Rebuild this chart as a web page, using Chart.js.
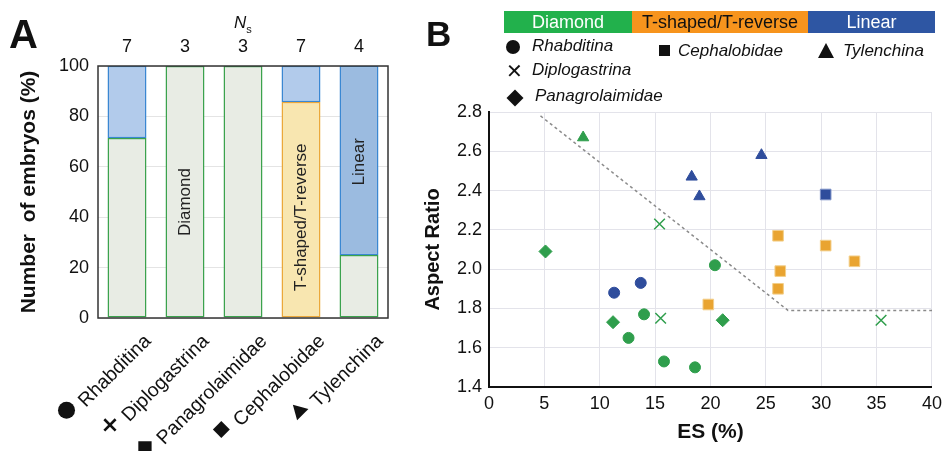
<!DOCTYPE html>
<html><head><meta charset="utf-8">
<script src="https://cdn.jsdelivr.net/npm/chart.js@4"></script>
<style>
body{margin:0;background:#fff;width:948px;height:451px;overflow:hidden;position:relative;font-family:"Liberation Sans",Arial,sans-serif;color:#111;}
.abs{position:absolute;white-space:nowrap;}
.lt{position:absolute;white-space:nowrap;font-style:italic;font-size:17px;height:20px;line-height:20px;}
</style></head><body>
<div class="abs" style="left:0;top:0;width:400px;height:451px"><canvas id="ca"></canvas></div>
<div class="abs" style="left:400px;top:0;width:548px;height:451px"><canvas id="cb"></canvas></div>

<div class="abs" style="left:9px;top:12px;font-size:40px;font-weight:bold;line-height:normal">A</div>
<div class="abs" style="left:426px;top:14px;font-size:35px;font-weight:bold;line-height:normal">B</div>
<div class="abs" style="left:234px;top:13px;font-size:17px;line-height:normal"><i>N</i><span style="font-size:11px;position:relative;top:5px">s</span></div>

<div class="abs" style="left:504px;top:11px;width:128px;height:22px;background:#22b14c;color:#fff;font-size:18px;line-height:22px;text-align:center">Diamond</div>
<div class="abs" style="left:632px;top:11px;width:176px;height:22px;background:#f7941d;color:#111;font-size:18px;line-height:22px;text-align:center">T-shaped/T-reverse</div>
<div class="abs" style="left:808px;top:11px;width:127px;height:22px;background:#2e56a3;color:#fff;font-size:18px;line-height:22px;text-align:center">Linear</div>

<div class="abs" style="left:506px;top:40px;width:14px;height:14px;border-radius:50%;background:#111"></div>
<div class="lt" style="left:532px;top:36px">Rhabditina</div>
<div class="abs" style="left:659px;top:45px;width:11px;height:11px;background:#111"></div>
<div class="lt" style="left:678px;top:41px">Cephalobidae</div>
<div class="abs" style="left:818px;top:43px;width:0;height:0;border-left:8.5px solid transparent;border-right:8.5px solid transparent;border-bottom:15px solid #111"></div>
<div class="lt" style="left:843px;top:41px">Tylenchina</div>
<div class="abs" style="left:506px;top:60px;font-size:20px;line-height:22px;font-family:'DejaVu Sans'">✕</div>
<div class="lt" style="left:532px;top:60px">Diplogastrina</div>
<div class="abs" style="left:509px;top:92px;width:12px;height:12px;background:#111;transform:rotate(45deg)"></div>
<div class="lt" style="left:535px;top:86px">Panagrolaimidae</div>

<script>
// ---------- Panel A data ----------
const taxa = ['Rhabditina','Diplogastrina','Panagrolaimidae','Cephalobidae','Tylenchina'];
const taxonMarkers = ['circle','cross','diamond','square','triangle'];
const embryoCounts = ['7','3','3','7','4'];
const diamondPct = [71.4, 100, 100, null, 25];
const tshapedPct = [null, null, null, 85.7, null];
const linearPct  = [28.6, null, null, 14.3, 75];
const barNotes = ['Diamond','T-shaped/T-reverse','Linear'];

// ---------- Panel B data: [ES (%), Aspect Ratio] ----------
const rhabditinaDiamond = [[20.4,2.02],[14.0,1.77],[12.6,1.65],[15.8,1.53],[18.6,1.50]];
const rhabditinaLinear  = [[11.3,1.88],[13.7,1.93]];
const diplogastrinaDiamond = [[15.4,2.23],[15.5,1.75],[35.4,1.74]];
const panagrolaimidaeDiamond = [[5.1,2.09],[11.2,1.73],[21.1,1.74]];
const cephalobidaeTshaped = [[19.8,1.82],[26.1,2.17],[30.4,2.12],[33.0,2.04],[26.3,1.99],[26.1,1.90]];
const cephalobidaeLinear  = [[30.4,2.38]];
const tylenchinaDiamond = [[8.5,2.67]];
const tylenchinaLinear  = [[18.3,2.47],[19.0,2.37],[24.6,2.58]];
const boundaryLine = [[4.65,2.78],[27.0,1.79],[40,1.79]];

const F = '"Liberation Sans", Arial, "DejaVu Sans", sans-serif';
const pts = a => a.map(p => ({x:p[0], y:p[1]}));
const XFS = 19.5;

const framePlugin = {
  id:'frame',
  afterDraw(chart){
    const {ctx, chartArea:a} = chart;
    ctx.save(); ctx.strokeStyle='#333'; ctx.lineWidth=1.5;
    ctx.strokeRect(a.left, a.top, a.right-a.left, a.bottom-a.top);
    ctx.restore();
  }
};
const barTextPlugin = {
  id:'barText',
  afterDatasetsDraw(chart){
    const {ctx} = chart; const y = chart.scales.y;
    const specs = [{ds:0,i:1,v:46},{ds:1,i:3,v:40},{ds:2,i:4,v:62}];
    ctx.save();
    ctx.font = '17px '+F; ctx.fillStyle='#222'; ctx.textAlign='center'; ctx.textBaseline='middle';
    specs.forEach((s,k)=>{
      const el = chart.getDatasetMeta(s.ds).data[s.i];
      ctx.save(); ctx.translate(el.x, y.getPixelForValue(s.v)); ctx.rotate(-Math.PI/2);
      ctx.fillText(barNotes[k], 0, 0); ctx.restore();
    });
    ctx.restore();
  }
};
// marker symbols in front of the rotated category labels
const labelMarkerPlugin = {
  id:'labelMarkers',
  afterDraw(chart){
    const {ctx} = chart; const xs = chart.scales.x; const to = xs.options.ticks;
    const lh = XFS*1.2;
    ctx.save(); ctx.font = XFS+'px '+F; ctx.fillStyle='#111'; ctx.strokeStyle='#111';
    taxa.forEach((t,i)=>{
      const px = xs.getPixelForTick(i) + to.labelOffset;
      const py = xs.top + to.padding + lh/2*Math.SQRT1_2;
      const w = ctx.measureText(t).width;
      ctx.save(); ctx.translate(px, py); ctx.rotate(-Math.PI/4);
      const cx = -(w+21), cy = -1;
      ctx.beginPath();
      const m = taxonMarkers[i];
      if (m==='circle'){ ctx.arc(cx,cy,8.5,0,Math.PI*2); ctx.fill(); }
      else if (m==='cross'){ ctx.lineWidth=2.6; ctx.moveTo(cx-8,cy); ctx.lineTo(cx+8,cy); ctx.moveTo(cx,cy-8); ctx.lineTo(cx,cy+8); ctx.stroke(); }
      else if (m==='diamond'){ const d=9.4; ctx.moveTo(cx-d,cy); ctx.lineTo(cx,cy-d); ctx.lineTo(cx+d,cy); ctx.lineTo(cx,cy+d); ctx.closePath(); ctx.fill(); }
      else if (m==='square'){ ctx.rect(cx-6,cy-6,12,12); ctx.fill(); }
      else { ctx.moveTo(cx,cy-8); ctx.lineTo(cx+8,cy+6); ctx.lineTo(cx-8,cy+6); ctx.closePath(); ctx.fill(); }
      ctx.restore();
    });
    ctx.restore();
  }
};

new Chart(document.getElementById('ca'), {
  type:'bar',
  data:{
    labels: taxa,
    datasets:[
      {label:'Diamond', data:diamondPct, backgroundColor:'#e8ece4', borderColor:'#3ba24d', borderWidth:1.5, borderSkipped:false},
      {label:'T-shaped/T-reverse', data:tshapedPct, backgroundColor:'#f8e6b0', borderColor:'#eba83a', borderWidth:1.5, borderSkipped:false},
      {label:'Linear', data:linearPct, backgroundColor:['#b2cbeb','#b2cbeb','#b2cbeb','#b2cbeb','#9bbbe0'], borderColor:'#3a87d2', borderWidth:1.5, borderSkipped:false}
    ]
  },
  options:{
    responsive:true, maintainAspectRatio:false, animation:false,
    layout:{padding:{left:0,right:12,top:0,bottom:0}},
    plugins:{legend:{display:false}, tooltip:{enabled:false}},
    datasets:{bar:{categoryPercentage:1, barPercentage:0.672}},
    scales:{
      x:{stacked:true, position:'bottom', offset:true, grid:{display:false}, border:{display:false},
         ticks:{font:{size:XFS,family:F}, color:'#111', minRotation:45, maxRotation:45, autoSkip:false, padding:4, labelOffset:21},
         afterFit:s=>{s.height=133;}},
      xTop:{type:'category', labels:embryoCounts, position:'top', offset:true, grid:{display:false}, border:{display:false},
         ticks:{font:{size:18,family:F}, color:'#111', padding:0},
         afterFit:s=>{s.height=66;}},
      y:{stacked:true, min:0, max:100,
         ticks:{stepSize:20, font:{size:18,family:F}, color:'#111', padding:9},
         grid:{color:'#e4e4e4', drawTicks:false}, border:{display:false},
         title:{display:true, text:'Number  of embryos (%)', font:{size:21,weight:'bold',family:F}, color:'#111', padding:{top:17,bottom:0}},
         afterFit:s=>{s.width=98;}}
    }
  },
  plugins:[barTextPlugin, framePlugin, labelMarkerPlugin]
});

const green='#2f9e4c', blue='#2f4d9c', orange='#e9a431';
new Chart(document.getElementById('cb'), {
  type:'scatter',
  data:{datasets:[
    {data:pts(rhabditinaDiamond), pointStyle:'circle', pointRadius:5.5, backgroundColor:green, borderColor:green, borderWidth:1},
    {data:pts(rhabditinaLinear), pointStyle:'circle', pointRadius:5.5, backgroundColor:blue, borderColor:blue, borderWidth:1},
    {data:pts(diplogastrinaDiamond), pointStyle:'crossRot', pointRadius:7.5, backgroundColor:green, borderColor:green, borderWidth:1.5},
    {data:pts(panagrolaimidaeDiamond), pointStyle:'rectRot', pointRadius:6.5, backgroundColor:green, borderColor:green, borderWidth:1},
    {data:pts(cephalobidaeTshaped), pointStyle:'rect', pointRadius:7.5, backgroundColor:orange, borderColor:'#f3cf8a', borderWidth:1},
    {data:pts(cephalobidaeLinear), pointStyle:'rect', pointRadius:7.5, backgroundColor:blue, borderColor:'#7f93c8', borderWidth:1},
    {data:pts(tylenchinaDiamond), pointStyle:'triangle', pointRadius:6.5, backgroundColor:green, borderColor:green, borderWidth:1},
    {data:pts(tylenchinaLinear), pointStyle:'triangle', pointRadius:6.5, backgroundColor:blue, borderColor:blue, borderWidth:1},
    {type:'line', data:pts(boundaryLine), borderColor:'#8a8a8a', borderWidth:1.5, borderDash:[3,3], pointRadius:0, fill:false, tension:0, showLine:true, order:10}
  ]},
  options:{
    responsive:true, maintainAspectRatio:false, animation:false,
    layout:{padding:{left:0,right:6,top:112,bottom:0}},
    plugins:{legend:{display:false}, tooltip:{enabled:false}},
    scales:{
      x:{type:'linear', min:0, max:40,
         ticks:{stepSize:5, font:{size:18,family:F}, color:'#111', padding:6},
         grid:{color:'#e3e3ea', drawTicks:false}, border:{color:'#111', width:2},
         title:{display:true, text:'ES (%)', font:{size:21,weight:'bold',family:F}, color:'#111', padding:{top:0,bottom:6}},
         afterFit:s=>{s.height=64;}},
      y:{min:1.4, max:2.8,
         ticks:{stepSize:0.2, font:{size:18,family:F}, color:'#111', padding:7, callback:v=>Number(v).toFixed(1)},
         grid:{color:'#e3e3ea', drawTicks:false}, border:{color:'#111', width:2},
         title:{display:true, text:'Aspect Ratio', font:{size:20,weight:'bold',family:F}, color:'#111', padding:{top:21,bottom:0}},
         afterFit:s=>{s.width=89;}}
    }
  }
});
</script>
</body></html>
